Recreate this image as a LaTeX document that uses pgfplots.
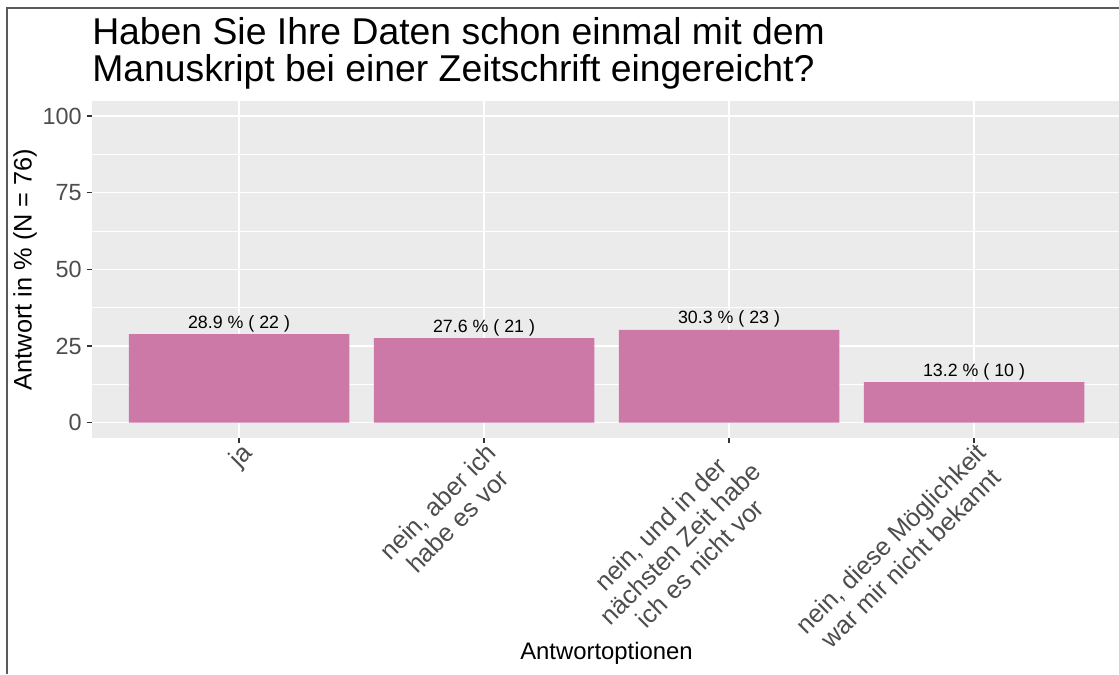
\documentclass[border=0pt]{standalone}
\usepackage{fontspec}
\setmainfont{Liberation Sans}
\usepackage{pgfplots}
\pgfplotsset{compat=1.18}
\usepackage{pgfplotstable}
\definecolor{panelgray}{HTML}{EBEBEB}
\definecolor{barpink}{HTML}{CC79A7}
\definecolor{ticklab}{HTML}{4D4D4D}
\definecolor{tickcol}{HTML}{333333}
\definecolor{framecol}{HTML}{5A5A5A}

\pgfplotstableread{
x y n
0 28.9 22
1 27.6 21
2 30.3 23
3 13.2 10
}\datatable

\begin{document}
\begin{tikzpicture}
\path[use as bounding box] (-69pt,-177pt) rectangle (770.25pt,328.5pt);
\begin{axis}[
  at={(0pt,0pt)}, anchor=south west,
  scale only axis, width=770.25pt, height=252.975pt,
  xmin=-0.6, xmax=3.5918, ymin=-5, ymax=105,
  ybar, bar width=0.9,
  axis background/.style={fill=panelgray},
  axis line style={draw=none},
  tick pos=left, tick align=outside,
  major tick length=3.75pt,
  minor tick length=0pt,
  tick style={tickcol, line width=0.8pt},
  ytick={0,25,50,75,100},
  minor ytick={12.5,37.5,62.5,87.5},
  xtick={0,1,2,3},
  xticklabels={ja, {nein, aber ich\\habe es vor}, {nein, und in der\\nächsten Zeit habe\\ich es nicht vor}, {nein, diese Möglichkeit\\war mir nicht bekannt}},
  grid=both,
  major grid style={white, line width=1.1pt},
  minor grid style={white, line width=0.55pt},
  /pgf/number format/assume math mode=true,
  yticklabel style={font=\fontsize{17.55}{20}\selectfont, text=ticklab, inner sep=0pt, anchor=east, xshift=-3.75pt},
  xticklabel style={font=\fontsize{19}{20.8}\selectfont, text=ticklab, align=center, inner sep=0pt, xshift=0.75pt, yshift=1.5pt, rotate=45, anchor=north east},
]
\addplot[fill=barpink, draw=none, point meta=y,
  visualization depends on={\thisrow{n} \as \cnt},
  nodes near coords={\pgfmathprintnumber[fixed,fixed zerofill,precision=1]{\pgfplotspointmeta} \% ( \pgfmathprintnumber[fixed,precision=0]{\cnt} )},
  every node near coord/.append style={font=\fontsize{13.35}{15}\selectfont, text=black, anchor=base, yshift=4.5pt, inner sep=0pt},
] table[x=x, y=y] {\datatable};
\end{axis}
\draw[framecol, line width=0.9pt] (-63.75pt,-177pt) -- (-63.75pt,322.5pt) -- (770.25pt,322.5pt);
\node[anchor=base west, font=\fontsize{28}{30}\selectfont, inner sep=0pt] at (0pt,295.3pt) {Haben Sie Ihre Daten schon einmal mit dem};
\node[anchor=base west, font=\fontsize{28}{30}\selectfont, inner sep=0pt] at (0pt,267.25pt) {Manuskript bei einer Zeitschrift eingereicht?};
\node[anchor=base, font=\fontsize{17.9}{20}\selectfont, inner sep=0pt] at (385.9pt,-165.75pt) {Antwortoptionen};
\node[rotate=90, font=\fontsize{19}{20}\selectfont, inner sep=0pt] at (-50.25pt,126.5pt) {Antwort in \% (N = 76)};
\end{tikzpicture}
\end{document}
